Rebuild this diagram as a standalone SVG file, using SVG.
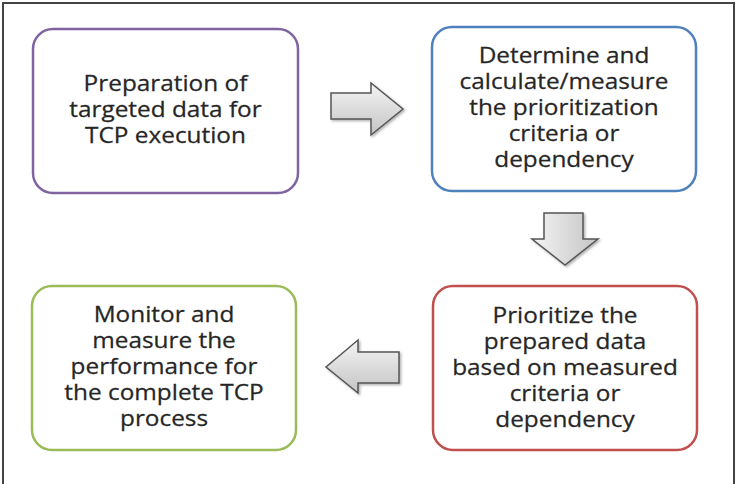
<svg xmlns="http://www.w3.org/2000/svg" width="738" height="484" viewBox="0 0 738 484">
<defs>
<linearGradient id="gh" x1="0" y1="0" x2="0" y2="1">
<stop offset="0" stop-color="#f4f4f4"/>
<stop offset="1" stop-color="#c4c4c4"/>
</linearGradient>
<linearGradient id="gv" x1="0" y1="0" x2="1" y2="0">
<stop offset="0" stop-color="#f4f4f4"/>
<stop offset="1" stop-color="#c4c4c4"/>
</linearGradient>
<filter id="sh" x="-20%" y="-20%" width="150%" height="150%">
<feDropShadow dx="1.5" dy="1.5" stdDeviation="1.2" flood-color="#000" flood-opacity="0.3"/>
</filter>
</defs>
<style>
.box{fill:#fff;stroke-width:2.5}
.t{font-family:"Open Sans","DejaVu Sans",sans-serif;font-size:21px;fill:#262626;text-anchor:middle;stroke:#262626;stroke-width:0.25}
.arr{stroke:#555;stroke-width:1.5;stroke-linejoin:miter;filter:url(#sh)}
</style>
<rect x="0" y="0" width="738" height="484" fill="#fff"/>
<path d="M3,484 V3 H734 V484" fill="none" stroke="#444" stroke-width="2"/>

<g id="connectors">
<path class="arr" fill="url(#gh)" d="M331,93 H371 V83 L403,109 L371,135 V119 H331 Z"/>
<path class="arr" fill="url(#gv)" d="M544,213 H583 V239 H598 L565,265 L532,239 H544 Z"/>
<path class="arr" fill="url(#gh)" d="M399,352 H358 V340 L326,367 L358,393 V383 H399 Z"/>
</g>

<g id="n1">
<rect class="box" x="33" y="29" width="265" height="164" rx="20" stroke="#8064a2"/>
<g transform="translate(165.5,0) scale(1.16,1)">
<text class="t" x="0" y="91">Preparation of</text>
<text class="t" x="0" y="117">targeted data for</text>
<text class="t" x="0" y="143">TCP execution</text>
</g>
</g>

<g id="n2">
<rect class="box" x="432" y="27" width="264" height="164" rx="20" stroke="#4f81bd"/>
<g transform="translate(564,0) scale(1.16,1)">
<text class="t" x="0" y="63">Determine and</text>
<text class="t" x="0" y="89">calculate/measure</text>
<text class="t" x="0" y="115">the prioritization</text>
<text class="t" x="0" y="141">criteria or</text>
<text class="t" x="0" y="167">dependency</text>
</g>
</g>

<g id="n3">
<rect class="box" x="433" y="286" width="264" height="164" rx="20" stroke="#c0504d"/>
<g transform="translate(565,0) scale(1.16,1)">
<text class="t" x="0" y="323">Prioritize the</text>
<text class="t" x="0" y="349">prepared data</text>
<text class="t" x="0" y="375">based on measured</text>
<text class="t" x="0" y="401">criteria or</text>
<text class="t" x="0" y="427">dependency</text>
</g>
</g>

<g id="n4">
<rect class="box" x="32" y="286" width="264" height="164" rx="20" stroke="#9bbb59"/>
<g transform="translate(164,0) scale(1.16,1)">
<text class="t" x="0" y="322">Monitor and</text>
<text class="t" x="0" y="348">measure the</text>
<text class="t" x="0" y="374">performance for</text>
<text class="t" x="0" y="400">the complete TCP</text>
<text class="t" x="0" y="426">process</text>
</g>
</g>
</svg>
